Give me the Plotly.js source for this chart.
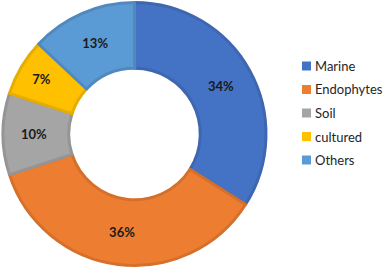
<!DOCTYPE html>
<html>
<head>
<meta charset="utf-8">
<script src="https://cdn.plot.ly/plotly-3.0.1.min.js"></script>
<style>html,body{margin:0;padding:0;background:#fff;}#chart{width:387px;height:268px;}</style>
</head>
<body>
<div id="chart"></div>
<script>
var categories = ["Marine", "Endophytes", "Soil", "cultured", "Others"];
var shares = [34, 36, 10, 7, 13];
var fillColors = ["#4472C4", "#ED7D31", "#A5A5A5", "#FFC000", "#5B9BD5"];
var edgeColors = ["#3F67B0", "#D5702B", "#959595", "#E6AD00", "#5189BF"];

var W = 387, H = 268;

var trace = {
  type: "pie",
  labels: categories,
  values: shares,
  hole: 0.5,
  sort: false,
  direction: "clockwise",
  rotation: 0,
  showlegend: false,
  marker: {colors: fillColors, line: {color: edgeColors, width: 3}},
  texttemplate: "<b>%{value}%</b>",
  textposition: "inside",
  insidetextorientation: "horizontal",
  textfont: {family: "Lato, 'Open Sans', sans-serif", size: 13, color: "#1a1a1a"},
  domain: {x: [3/W, 266/W], y: [2/H, 266/H]},
  hoverinfo: "none"
};

// Custom legend (squares + real text labels), laid out from the category list
var legX = 302, legY0 = 66, legStep = 23.5, sq = 9;
var shapes = [], annotations = [];
categories.forEach(function (name, i) {
  var cy = legY0 + i * legStep;
  shapes.push({
    type: "rect", xref: "paper", yref: "paper",
    x0: legX / W, x1: (legX + sq) / W,
    y0: 1 - (cy + sq / 2) / H, y1: 1 - (cy - sq / 2) / H,
    fillcolor: fillColors[i], line: {width: 0}
  });
  annotations.push({
    xref: "paper", yref: "paper",
    x: (legX + sq + 2) / W, y: 1 - cy / H,
    xanchor: "left", yanchor: "middle",
    text: name, showarrow: false,
    font: {family: "Lato, 'Open Sans', sans-serif", size: 13, color: "#262626"}
  });
});

var layout = {
  width: W, height: H,
  margin: {l: 0, r: 0, t: 0, b: 0, autoexpand: false},
  paper_bgcolor: "#ffffff",
  showlegend: false,
  shapes: shapes,
  annotations: annotations
};

Plotly.newPlot("chart", [trace], layout, {displayModeBar: false, staticPlot: true});
</script>
</body>
</html>
